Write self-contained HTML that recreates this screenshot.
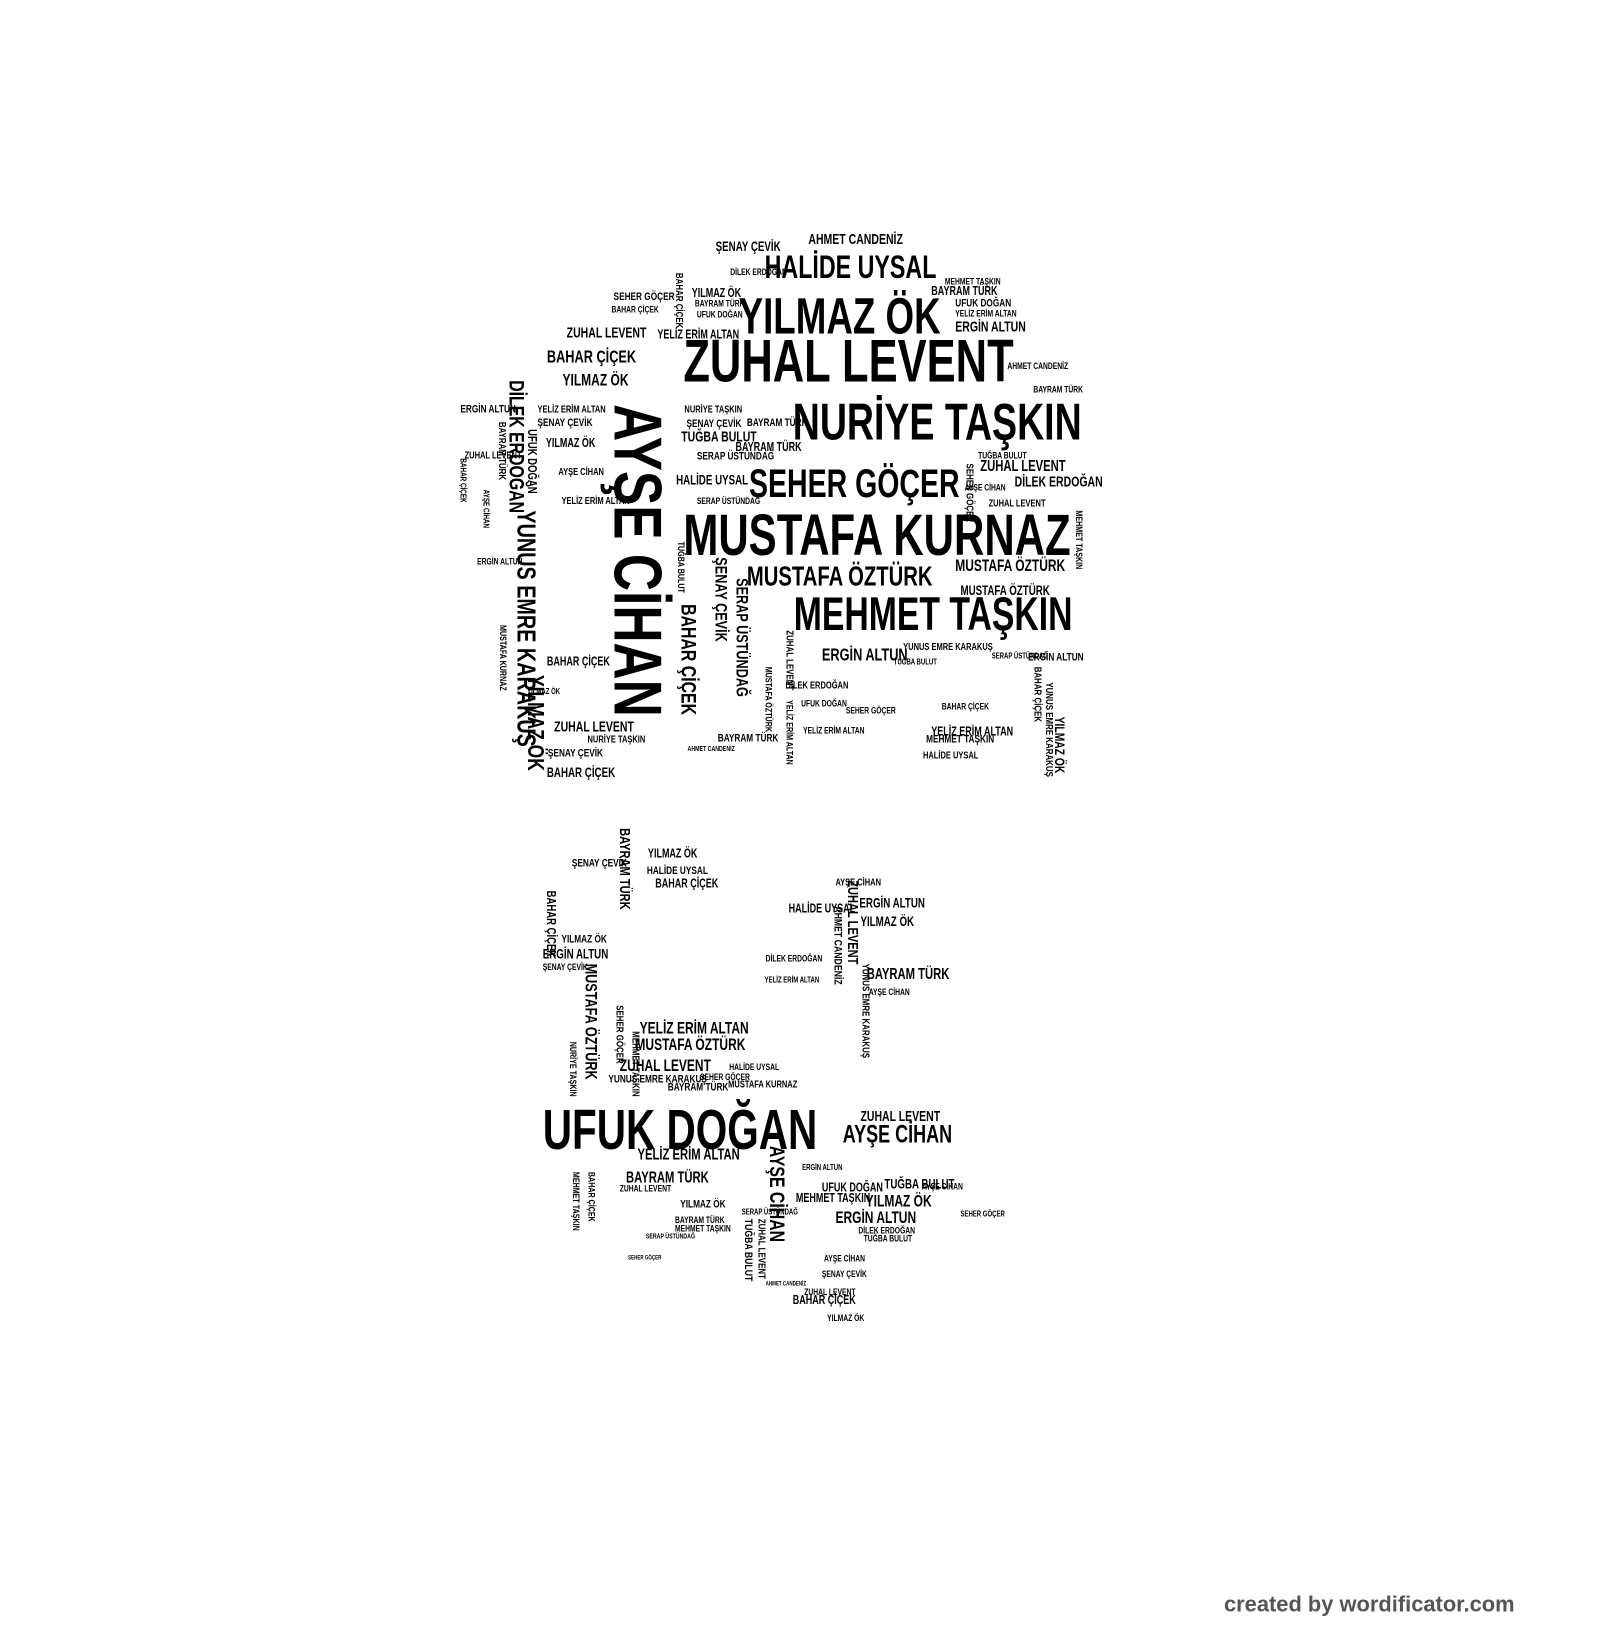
<!DOCTYPE html>
<html><head><meta charset="utf-8"><style>
html,body{margin:0;padding:0;background:#fff;}
#root{position:relative;width:1600px;height:1640px;overflow:hidden;}
#c{position:absolute;left:0;top:0;width:1536px;height:1574px;transform:scale(1.0417);transform-origin:0 0;}
#c div{position:absolute;white-space:nowrap;line-height:1;font-family:"Liberation Sans Narrow","Liberation Sans",sans-serif;font-weight:bold;color:#000;transform:scaleX(0.72);transform-origin:0 0;}
#c div.v{writing-mode:vertical-rl;transform:scaleY(0.76);}
#c div.f{transform:none;}
</style></head><body><div id="root"><div id="c">
<div style="left:734px;top:241px;font-size:31px">HALİDE UYSAL</div>
<div style="left:709px;top:280px;font-size:49px">YILMAZ ÖK</div>
<div style="left:656px;top:318px;font-size:58px">ZUHAL LEVENT</div>
<div style="left:761px;top:380px;font-size:50px">NURİYE TAŞKIN</div>
<div style="left:719px;top:446px;font-size:38px">SEHER GÖÇER</div>
<div style="left:656px;top:486px;font-size:56px">MUSTAFA KURNAZ</div>
<div style="left:717px;top:540px;font-size:27px">MUSTAFA ÖZTÜRK</div>
<div style="left:762px;top:567px;font-size:45px">MEHMET TAŞKIN</div>
<div class="v" style="left:580px;top:388px;font-size:65px">AYŞE CİHAN</div>
<div class="v" style="left:485px;top:365px;font-size:20px">DİLEK ERDOĞAN</div>
<div class="v" style="left:492px;top:490px;font-size:25px">YUNUS EMRE KARAKUŞ</div>
<div class="v" style="left:503px;top:648px;font-size:22px">YILMAZ ÖK</div>
<div class="v" style="left:650px;top:580px;font-size:20px">BAHAR ÇİÇEK</div>
<div class="v" style="left:703px;top:555px;font-size:16px">SERAP ÜSTÜNDAĞ</div>
<div class="v" style="left:683px;top:535px;font-size:16px">ŞENAY ÇEVİK</div>
<div style="left:521px;top:1058px;font-size:54px">UFUK DOĞAN</div>
<div style="left:809px;top:1078px;font-size:24px">AYŞE CİHAN</div>
<div style="left:789px;top:620px;font-size:17px">ERGİN ALTUN</div>
<div class="v" style="left:558px;top:925px;font-size:16px">MUSTAFA ÖZTÜRK</div>
<div class="v" style="left:735px;top:1100px;font-size:20px">AYŞE CİHAN</div>
<div style="left:776px;top:222px;font-size:14px">AHMET CANDENİZ</div>
<div style="left:687px;top:230px;font-size:13px">ŞENAY ÇEVİK</div>
<div style="left:701px;top:257px;font-size:9px">DİLEK ERDOĞAN</div>
<div style="left:664px;top:275px;font-size:12px">YILMAZ ÖK</div>
<div style="left:667px;top:287px;font-size:9px">BAYRAM TÜRK</div>
<div style="left:669px;top:298px;font-size:9px">UFUK DOĞAN</div>
<div style="left:907px;top:266px;font-size:9px">MEHMET TAŞKIN</div>
<div style="left:894px;top:273px;font-size:12px">BAYRAM TÜRK</div>
<div style="left:917px;top:286px;font-size:11px">UFUK DOĞAN</div>
<div style="left:917px;top:297px;font-size:9px">YELİZ ERİM ALTAN</div>
<div style="left:917px;top:306px;font-size:14px">ERGİN ALTUN</div>
<div style="left:589px;top:280px;font-size:11px">SEHER GÖÇER</div>
<div style="left:587px;top:293px;font-size:9px">BAHAR ÇİÇEK</div>
<div style="left:544px;top:312px;font-size:14px">ZUHAL LEVENT</div>
<div style="left:631px;top:315px;font-size:12px">YELİZ ERİM ALTAN</div>
<div style="left:525px;top:334px;font-size:17px">BAHAR ÇİÇEK</div>
<div style="left:540px;top:358px;font-size:16px">YILMAZ ÖK</div>
<div style="left:967px;top:347px;font-size:9px">AHMET CANDENİZ</div>
<div style="left:992px;top:370px;font-size:9px">BAYRAM TÜRK</div>
<div style="left:442px;top:388px;font-size:11px">ERGİN ALTUN</div>
<div style="left:516px;top:389px;font-size:10px">YELİZ ERİM ALTAN</div>
<div style="left:516px;top:401px;font-size:11px">ŞENAY ÇEVİK</div>
<div style="left:524px;top:419px;font-size:12px">YILMAZ ÖK</div>
<div style="left:657px;top:389px;font-size:10px">NURİYE TAŞKIN</div>
<div style="left:659px;top:402px;font-size:11px">ŞENAY ÇEVİK</div>
<div style="left:654px;top:412px;font-size:14px">TUĞBA BULUT</div>
<div style="left:717px;top:401px;font-size:11px">BAYRAM TÜRK</div>
<div style="left:706px;top:423px;font-size:12px">BAYRAM TÜRK</div>
<div style="left:446px;top:433px;font-size:10px">ZUHAL LEVENT</div>
<div style="left:669px;top:433px;font-size:11px">SERAP ÜSTÜNDAĞ</div>
<div style="left:536px;top:449px;font-size:10px">AYŞE CİHAN</div>
<div style="left:649px;top:454px;font-size:13px">HALİDE UYSAL</div>
<div style="left:669px;top:477px;font-size:9px">SERAP ÜSTÜNDAĞ</div>
<div style="left:941px;top:440px;font-size:15px">ZUHAL LEVENT</div>
<div style="left:974px;top:455px;font-size:14px">DİLEK ERDOĞAN</div>
<div style="left:949px;top:479px;font-size:10px">ZUHAL LEVENT</div>
<div style="left:939px;top:433px;font-size:9px">TUĞBA BULUT</div>
<div style="left:926px;top:464px;font-size:9px">AYŞE CİHAN</div>
<div style="left:917px;top:536px;font-size:16px">MUSTAFA ÖZTÜRK</div>
<div style="left:922px;top:560px;font-size:13px">MUSTAFA ÖZTÜRK</div>
<div style="left:867px;top:617px;font-size:10px">YUNUS EMRE KARAKUŞ</div>
<div style="left:987px;top:626px;font-size:11px">ERGİN ALTUN</div>
<div style="left:539px;top:477px;font-size:10px">YELİZ ERİM ALTAN</div>
<div style="left:458px;top:535px;font-size:9px">ERGİN ALTUN</div>
<div style="left:525px;top:629px;font-size:12px">BAHAR ÇİÇEK</div>
<div style="left:532px;top:690px;font-size:14px">ZUHAL LEVENT</div>
<div style="left:564px;top:706px;font-size:10px">NURİYE TAŞKIN</div>
<div style="left:526px;top:718px;font-size:11px">ŞENAY ÇEVİK</div>
<div style="left:525px;top:735px;font-size:13px">BAHAR ÇİÇEK</div>
<div style="left:769px;top:671px;font-size:9px">UFUK DOĞAN</div>
<div style="left:812px;top:678px;font-size:9px">SEHER GÖÇER</div>
<div style="left:904px;top:674px;font-size:9px">BAHAR ÇİÇEK</div>
<div style="left:894px;top:696px;font-size:12px">YELİZ ERİM ALTAN</div>
<div style="left:889px;top:705px;font-size:11px">MEHMET TAŞKIN</div>
<div style="left:886px;top:721px;font-size:10px">HALİDE UYSAL</div>
<div style="left:689px;top:704px;font-size:11px">BAYRAM TÜRK</div>
<div style="left:754px;top:654px;font-size:10px">DİLEK ERDOĞAN</div>
<div style="left:771px;top:697px;font-size:9px">YELİZ ERİM ALTAN</div>
<div class="v" style="left:649px;top:520px;font-size:9px">TUĞBA BULUT</div>
<div class="v" style="left:478px;top:600px;font-size:9px">MUSTAFA KURNAZ</div>
<div class="v" style="left:505px;top:412px;font-size:12px">UFUK DOĞAN</div>
<div class="v" style="left:476px;top:405px;font-size:10px">BAYRAM TÜRK</div>
<div class="v" style="left:1011px;top:688px;font-size:13px">YILMAZ ÖK</div>
<div class="v" style="left:1001px;top:655px;font-size:10px">YUNUS EMRE KARAKUŞ</div>
<div class="v" style="left:990px;top:640px;font-size:10px">BAHAR ÇİÇEK</div>
<div class="v" style="left:733px;top:640px;font-size:9px">MUSTAFA ÖZTÜRK</div>
<div class="v" style="left:753px;top:672px;font-size:9px">YELİZ ERİM ALTAN</div>
<div class="v" style="left:752px;top:605px;font-size:10px">ZUHAL LEVENT</div>
<div class="v" style="left:646px;top:262px;font-size:10px">BAHAR ÇİÇEK</div>
<div class="v" style="left:925px;top:445px;font-size:10px">SEHER GÖÇER</div>
<div class="v" style="left:1031px;top:490px;font-size:9px">MEHMET TAŞKIN</div>
<div class="v" style="left:440px;top:440px;font-size:8px">BAHAR ÇİÇEK</div>
<div class="v" style="left:462px;top:470px;font-size:8px">AYŞE CİHAN</div>
<div style="left:506px;top:660px;font-size:8px">YILMAZ ÖK</div>
<div style="left:858px;top:632px;font-size:8px">TUĞBA BULUT</div>
<div style="left:952px;top:626px;font-size:8px">SERAP ÜSTÜNDAĞ</div>
<div style="left:660px;top:716px;font-size:7px">AHMET CANDENİZ</div>
<div style="left:622px;top:813px;font-size:12px">YILMAZ ÖK</div>
<div style="left:621px;top:831px;font-size:11px">HALİDE UYSAL</div>
<div style="left:549px;top:824px;font-size:11px">ŞENAY ÇEVİK</div>
<div style="left:629px;top:842px;font-size:12px">BAHAR ÇİÇEK</div>
<div style="left:802px;top:843px;font-size:10px">AYŞE CİHAN</div>
<div style="left:757px;top:866px;font-size:12px">HALİDE UYSAL</div>
<div style="left:825px;top:860px;font-size:13px">ERGİN ALTUN</div>
<div style="left:826px;top:878px;font-size:13px">YILMAZ ÖK</div>
<div style="left:539px;top:897px;font-size:11px">YILMAZ ÖK</div>
<div style="left:521px;top:909px;font-size:13px">ERGİN ALTUN</div>
<div style="left:521px;top:924px;font-size:9px">ŞENAY ÇEVİK</div>
<div style="left:832px;top:928px;font-size:15px">BAYRAM TÜRK</div>
<div style="left:834px;top:948px;font-size:9px">AYŞE CİHAN</div>
<div style="left:614px;top:980px;font-size:16px">YELİZ ERİM ALTAN</div>
<div style="left:610px;top:996px;font-size:16px">MUSTAFA ÖZTÜRK</div>
<div style="left:595px;top:1016px;font-size:16px">ZUHAL LEVENT</div>
<div style="left:584px;top:1031px;font-size:11px">YUNUS EMRE KARAKUŞ</div>
<div style="left:641px;top:1039px;font-size:11px">BAYRAM TÜRK</div>
<div style="left:699px;top:1037px;font-size:10px">MUSTAFA KURNAZ</div>
<div style="left:826px;top:1064px;font-size:14px">ZUHAL LEVENT</div>
<div style="left:612px;top:1101px;font-size:15px">YELİZ ERİM ALTAN</div>
<div style="left:601px;top:1123px;font-size:15px">BAYRAM TÜRK</div>
<div style="left:595px;top:1137px;font-size:9px">ZUHAL LEVENT</div>
<div style="left:653px;top:1151px;font-size:11px">YILMAZ ÖK</div>
<div style="left:648px;top:1167px;font-size:9px">BAYRAM TÜRK</div>
<div style="left:648px;top:1175px;font-size:9px">MEHMET TAŞKIN</div>
<div style="left:789px;top:1134px;font-size:12px">UFUK DOĞAN</div>
<div style="left:849px;top:1130px;font-size:13px">TUĞBA BULUT</div>
<div style="left:764px;top:1144px;font-size:12px">MEHMET TAŞKIN</div>
<div style="left:831px;top:1146px;font-size:16px">YILMAZ ÖK</div>
<div style="left:802px;top:1162px;font-size:16px">ERGİN ALTUN</div>
<div style="left:824px;top:1177px;font-size:9px">DİLEK ERDOĞAN</div>
<div style="left:829px;top:1185px;font-size:9px">TUĞBA BULUT</div>
<div style="left:791px;top:1204px;font-size:9px">AYŞE CİHAN</div>
<div style="left:789px;top:1219px;font-size:9px">ŞENAY ÇEVİK</div>
<div style="left:772px;top:1236px;font-size:9px">ZUHAL LEVENT</div>
<div style="left:761px;top:1242px;font-size:12px">BAHAR ÇİÇEK</div>
<div style="left:794px;top:1261px;font-size:9px">YILMAZ ÖK</div>
<div style="left:885px;top:1135px;font-size:9px">AYŞE CİHAN</div>
<div style="left:922px;top:1162px;font-size:8px">SEHER GÖÇER</div>
<div style="left:770px;top:1117px;font-size:8px">ERGİN ALTUN</div>
<div class="v" style="left:593px;top:795px;font-size:14px">BAYRAM TÜRK</div>
<div class="v" style="left:523px;top:855px;font-size:12px">BAHAR ÇİÇEK</div>
<div class="v" style="left:604px;top:990px;font-size:10px">MEHMET TAŞKIN</div>
<div class="v" style="left:589px;top:965px;font-size:10px">SEHER GÖÇER</div>
<div class="v" style="left:812px;top:845px;font-size:14px">ZUHAL LEVENT</div>
<div class="v" style="left:825px;top:925px;font-size:10px">YUNUS EMRE KARAKUŞ</div>
<div class="v" style="left:798px;top:870px;font-size:11px">AHMET CANDENİZ</div>
<div class="v" style="left:712px;top:1170px;font-size:11px">TUĞBA BULUT</div>
<div class="v" style="left:725px;top:1170px;font-size:10px">ZUHAL LEVENT</div>
<div class="v" style="left:563px;top:1125px;font-size:9px">BAHAR ÇİÇEK</div>
<div class="v" style="left:548px;top:1125px;font-size:9px">MEHMET TAŞKIN</div>
<div class="v" style="left:545px;top:1000px;font-size:9px">NURİYE TAŞKIN</div>
<div style="left:735px;top:916px;font-size:9px">DİLEK ERDOĞAN</div>
<div style="left:734px;top:937px;font-size:8px">YELİZ ERİM ALTAN</div>
<div style="left:712px;top:1160px;font-size:8px">SERAP ÜSTÜNDAĞ</div>
<div style="left:672px;top:1030px;font-size:9px">SEHER GÖÇER</div>
<div style="left:700px;top:1020px;font-size:9px">HALİDE UYSAL</div>
<div style="left:620px;top:1184px;font-size:7px">SERAP ÜSTÜNDAĞ</div>
<div style="left:603px;top:1205px;font-size:6px">SEHER GÖÇER</div>
<div style="left:735px;top:1230px;font-size:6px">AHMET CANDENİZ</div>
<div class="f" style="left:1175px;top:1530px;font-size:21px;color:#555;font-family:'Liberation Sans',sans-serif">created by wordificator.com</div>
</div></div></body></html>
